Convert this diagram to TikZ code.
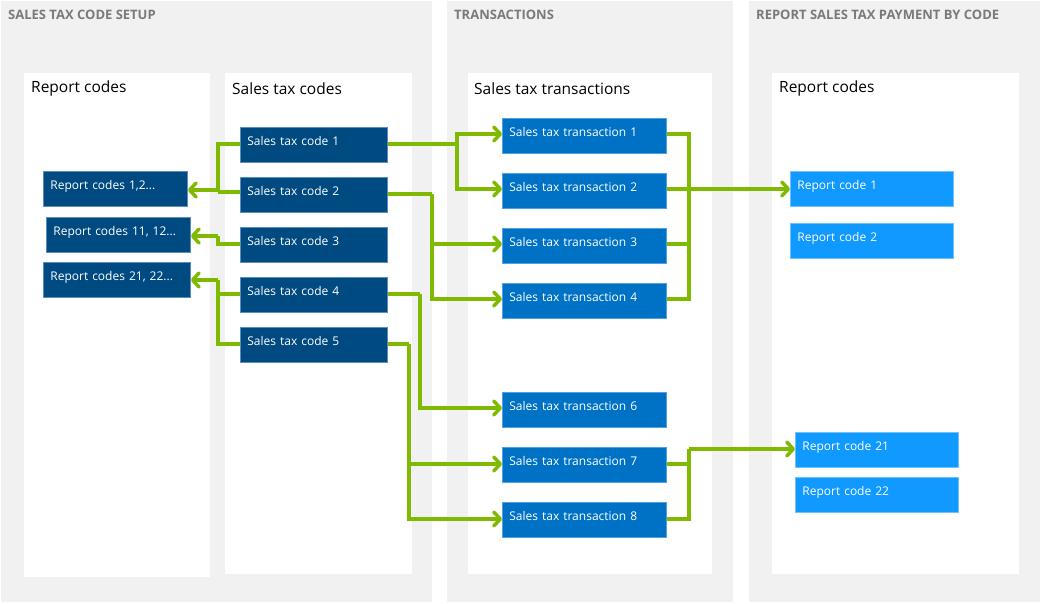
\documentclass[tikz,border=0pt]{standalone}
\usepackage{fontspec}
\setmainfont{Open Sans}
\usetikzlibrary{arrows.meta}
\definecolor{panelgray}{RGB}{241,241,241}
\definecolor{headgray}{RGB}{122,122,122}
\definecolor{darkblue}{RGB}{0,74,130}
\definecolor{darkedge}{RGB}{90,140,190}
\definecolor{midblue}{RGB}{0,114,198}
\definecolor{midedge}{RGB}{80,160,230}
\definecolor{lightblue}{RGB}{16,153,255}
\definecolor{lightedge}{RGB}{110,195,255}
\definecolor{arrowgreen}{RGB}{127,186,0}
\tikzset{
  panel/.style={fill=panelgray, draw=none},
  inner/.style={fill=white, draw=none},
  headtxt/.style={anchor=west, text=headgray, font=\fontsize{13}{15}\selectfont\bfseries, inner sep=0pt},
  subtxt/.style={anchor=west, text=black, font=\fontsize{15.5}{18}\selectfont, inner sep=0pt},
  boxbase/.style={anchor=north west, text=white, font=\fontsize{12}{14}\selectfont,
    align=left, inner xsep=7pt, inner ysep=0pt, text height=8pt, text depth=6pt,
    minimum height=35pt, line width=0.8pt},
  codebox/.style={boxbase, fill=darkblue, draw=darkedge, text width=133pt},
  rcbox/.style={boxbase, fill=darkblue, draw=darkedge},
  trbox/.style={boxbase, fill=midblue, draw=midedge, text width=150pt},
  repbox/.style={boxbase, fill=lightblue, draw=lightedge, text width=149pt},
  link/.style={draw=arrowgreen, line width=3.5pt, line join=miter},
  arr/.style={link, -{Straight Barb[length=6.5pt,width=14pt,round]}},
}
\begin{document}
\begin{tikzpicture}[x=1pt,y=-1pt]
\useasboundingbox (0,0) rectangle (1042,603);
\fill[white] (0,0) rectangle (1042,603);
% panels
\path[panel] (1,1) rectangle (432,602);
\path[panel] (447,1) rectangle (733,602);
\path[panel] (749,1) rectangle (1040,602);
\path[inner] (24,73) rectangle (210,577);
\path[inner] (225,73) rectangle (412,574);
\path[inner] (468,73) rectangle (712,574);
\path[inner] (772,73) rectangle (1019,574);
% headers
\node[headtxt] (h1) at (8,15) {SALES TAX CODE SETUP};
\node[headtxt] (h2) at (454,15) {TRANSACTIONS};
\node[headtxt] (h3) at (756,15) {REPORT SALES TAX PAYMENT BY CODE};
\node[subtxt] (s1) at (31,88.5) {Report codes};
\node[subtxt] (s2) at (232,88.5) {Sales tax codes};
\node[subtxt] (s3) at (474,88.5) {Sales tax transactions};
\node[subtxt] (s4) at (779,88.5) {Report codes};
% sales tax codes
\node[codebox] (c1) at (240,127) {Sales tax code 1};
\node[codebox] (c2) at (240,177) {Sales tax code 2};
\node[codebox] (c3) at (240,227) {Sales tax code 3};
\node[codebox] (c4) at (240,277) {Sales tax code 4};
\node[codebox] (c5) at (240,327) {Sales tax code 5};
% report code groups
\node[rcbox, text width=130pt] (r1) at (43,171) {Report codes 1,2...};
\node[rcbox, text width=130pt] (r2) at (46,217) {Report codes 11, 12...};
\node[rcbox, text width=133pt] (r3) at (43,262) {Report codes 21, 22...};
% transactions
\node[trbox] (t1) at (502,118) {Sales tax transaction 1};
\node[trbox] (t2) at (502,173) {Sales tax transaction 2};
\node[trbox] (t3) at (502,228) {Sales tax transaction 3};
\node[trbox] (t4) at (502,283) {Sales tax transaction 4};
\node[trbox] (t6) at (502,392) {Sales tax transaction 6};
\node[trbox] (t7) at (502,447) {Sales tax transaction 7};
\node[trbox] (t8) at (502,502) {Sales tax transaction 8};
% report codes
\node[repbox] (p1) at (790,171) {Report code 1};
\node[repbox] (p2) at (790,223) {Report code 2};
\node[repbox] (p21) at (795,432) {Report code 21};
\node[repbox] (p22) at (795,477) {Report code 22};
% coordinates for junctions
\coordinate (jA) at (218,190);
\coordinate (jB) at (218,236);
\coordinate (jC) at (218,280);
% codes -> report code groups
\draw[link] (c1.west |- 0,144) -| (jA);
\draw[link] (c2.west |- 0,192) -- (jA |- 0,192);
\draw[arr] (jA) -- (r1.east |- jA);
\draw[link] (c3.west |- 0,244) -| (jB);
\draw[arr] (jB) -- (r2.east |- jB);
\draw[link] (c4.west |- 0,294) -| (jC);
\draw[link] (c5.west |- 0,344) -| (jC);
\draw[arr] (jC) -- (r3.east |- jC);
% codes -> transactions
\draw[link] (c1.east |- 0,144) -- (457,144);
\draw[arr] (457,144) |- (t1.west |- 0,134);
\draw[arr] (457,144) |- (t2.west |- 0,189);
\draw[link] (c2.east |- 0,194) -- (432,194);
\draw[arr] (432,194) |- (t3.west |- 0,244);
\draw[arr] (432,194) |- (t4.west |- 0,299);
\draw[link] (c4.east |- 0,294) -- (420,294);
\draw[arr] (420,294) |- (t6.west |- 0,408);
\draw[link] (c5.east |- 0,344) -- (409,344);
\draw[arr] (409,344) |- (t7.west |- 0,464);
\draw[arr] (409,344) |- (t8.west |- 0,519);
% transactions -> report codes
\draw[link] (t1.east |- 0,134) -| (689,299) -- (t4.east |- 0,299);
\draw[link] (t2.east |- 0,189) -- (689,189);
\draw[link] (t3.east |- 0,244) -- (689,244);
\draw[arr] (689,189) -- (p1.west |- 0,189);
\draw[link] (t7.east |- 0,464) -- (689,464);
\draw[link] (t8.east |- 0,519) -| (689,449);
\draw[arr] (689,449) -- (p21.west |- 0,449);
\end{tikzpicture}
\end{document}
